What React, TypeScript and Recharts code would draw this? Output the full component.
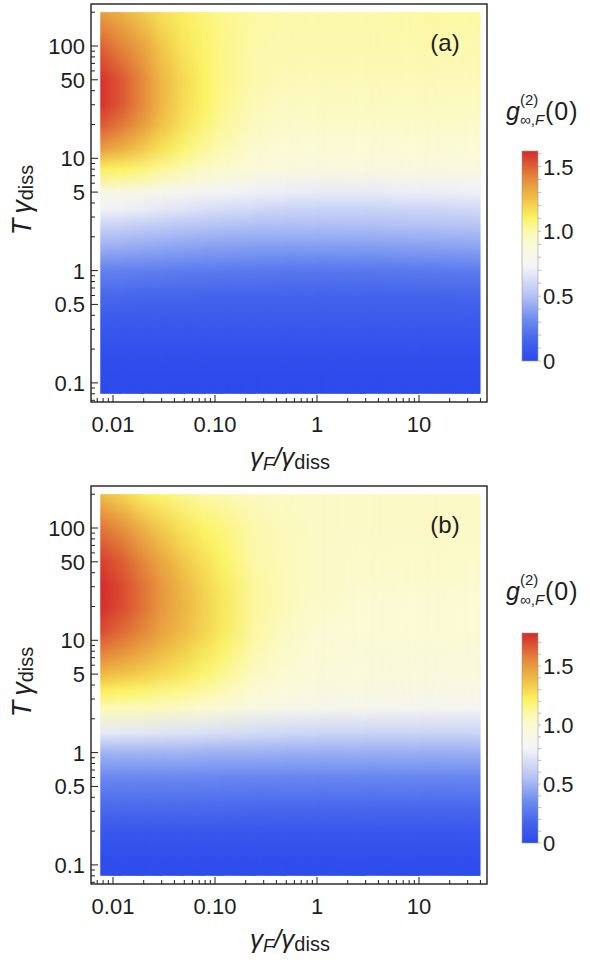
import React from 'react';
import { ComposedChart, XAxis, YAxis, Scatter, ReferenceArea } from 'recharts';

// grid nodes of the density plots
const gammaF = [0.0075, 0.012, 0.02, 0.03, 0.05, 0.08, 0.12, 0.25, 0.5, 1, 3, 10, 40];
const tGamma = [200, 100, 50, 30, 20, 12, 8, 5, 3.5, 2.5, 1.5, 1, 0.6, 0.35, 0.2, 0.12, 0.08];

// g2(0) values, one row per tGamma node (top to bottom), one column per gammaF node
const g2A = [
  [1.35, 1.30, 1.22, 1.16, 1.12, 1.07, 1.04, 1.01, 1.00, 1.00, 1.00, 1.01, 1.01],
  [1.50, 1.42, 1.33, 1.23, 1.14, 1.09, 1.05, 1.00, 0.99, 0.99, 0.99, 0.99, 0.99],
  [1.60, 1.52, 1.40, 1.28, 1.18, 1.10, 1.05, 0.99, 0.97, 0.97, 0.97, 0.97, 0.97],
  [1.60, 1.52, 1.40, 1.28, 1.17, 1.10, 1.04, 0.97, 0.95, 0.95, 0.95, 0.95, 0.95],
  [1.52, 1.45, 1.35, 1.25, 1.15, 1.07, 1.02, 0.95, 0.93, 0.93, 0.93, 0.93, 0.93],
  [1.35, 1.30, 1.22, 1.15, 1.08, 1.02, 0.98, 0.92, 0.90, 0.90, 0.90, 0.90, 0.90],
  [1.12, 1.10, 1.07, 1.03, 0.98, 0.94, 0.92, 0.88, 0.86, 0.85, 0.85, 0.85, 0.85],
  [0.83, 0.82, 0.80, 0.78, 0.76, 0.74, 0.73, 0.71, 0.70, 0.69, 0.69, 0.70, 0.71],
  [0.72, 0.71, 0.69, 0.67, 0.65, 0.63, 0.62, 0.60, 0.58, 0.58, 0.58, 0.59, 0.60],
  [0.58, 0.57, 0.55, 0.54, 0.52, 0.51, 0.50, 0.49, 0.49, 0.49, 0.49, 0.50, 0.51],
  [0.42, 0.41, 0.40, 0.39, 0.38, 0.37, 0.37, 0.36, 0.36, 0.36, 0.36, 0.37, 0.38],
  [0.28, 0.28, 0.27, 0.27, 0.26, 0.26, 0.25, 0.25, 0.24, 0.24, 0.24, 0.25, 0.26],
  [0.18, 0.18, 0.17, 0.17, 0.17, 0.16, 0.16, 0.16, 0.16, 0.16, 0.16, 0.16, 0.17],
  [0.10, 0.10, 0.10, 0.10, 0.10, 0.10, 0.10, 0.10, 0.10, 0.10, 0.10, 0.10, 0.10],
  [0.05, 0.05, 0.05, 0.05, 0.05, 0.05, 0.05, 0.05, 0.05, 0.05, 0.05, 0.05, 0.05],
  [0.02, 0.02, 0.02, 0.02, 0.02, 0.02, 0.02, 0.02, 0.02, 0.02, 0.02, 0.02, 0.02],
  [0.01, 0.01, 0.01, 0.01, 0.01, 0.01, 0.01, 0.01, 0.01, 0.01, 0.01, 0.01, 0.01],
];

const g2B = [
  [1.39, 1.32, 1.23, 1.19, 1.14, 1.10, 1.08, 1.05, 1.03, 1.03, 1.03, 1.03, 1.03],
  [1.60, 1.53, 1.42, 1.34, 1.26, 1.21, 1.17, 1.09, 1.05, 1.03, 1.03, 1.03, 1.03],
  [1.73, 1.66, 1.55, 1.46, 1.35, 1.27, 1.21, 1.10, 1.06, 1.03, 1.02, 1.02, 1.02],
  [1.78, 1.70, 1.60, 1.50, 1.40, 1.31, 1.24, 1.12, 1.06, 1.03, 1.01, 1.01, 1.01],
  [1.77, 1.70, 1.60, 1.50, 1.41, 1.32, 1.25, 1.12, 1.06, 1.02, 1.00, 1.00, 1.00],
  [1.70, 1.63, 1.55, 1.47, 1.39, 1.31, 1.24, 1.11, 1.04, 1.00, 0.99, 0.99, 0.99],
  [1.58, 1.53, 1.46, 1.40, 1.33, 1.26, 1.20, 1.08, 1.02, 0.99, 0.98, 0.98, 0.98],
  [1.40, 1.37, 1.33, 1.29, 1.25, 1.19, 1.14, 1.04, 1.00, 0.97, 0.96, 0.95, 0.95],
  [1.23, 1.21, 1.19, 1.16, 1.14, 1.11, 1.07, 1.00, 0.96, 0.93, 0.92, 0.91, 0.90],
  [1.07, 1.07, 1.06, 1.05, 1.03, 1.00, 0.98, 0.93, 0.89, 0.87, 0.85, 0.83, 0.82],
  [0.75, 0.74, 0.73, 0.72, 0.71, 0.70, 0.69, 0.67, 0.66, 0.65, 0.64, 0.64, 0.64],
  [0.50, 0.50, 0.50, 0.50, 0.50, 0.49, 0.49, 0.49, 0.48, 0.48, 0.48, 0.48, 0.48],
  [0.34, 0.34, 0.34, 0.34, 0.34, 0.34, 0.33, 0.33, 0.33, 0.33, 0.33, 0.33, 0.33],
  [0.22, 0.22, 0.22, 0.22, 0.22, 0.22, 0.22, 0.21, 0.21, 0.21, 0.21, 0.21, 0.21],
  [0.10, 0.10, 0.10, 0.10, 0.10, 0.10, 0.10, 0.10, 0.10, 0.10, 0.10, 0.10, 0.10],
  [0.04, 0.04, 0.04, 0.04, 0.04, 0.04, 0.04, 0.04, 0.04, 0.04, 0.04, 0.04, 0.04],
  [0.02, 0.02, 0.02, 0.02, 0.02, 0.02, 0.02, 0.02, 0.02, 0.02, 0.02, 0.02, 0.02],
];

const maxA = 1.62;
const maxB = 1.78;

const xMajor = [0.01, 0.1, 1, 10];
const xMajorLabels = ['0.01', '0.10', '1', '10'];
const xMinor = [0.007, 0.008, 0.009, 0.02, 0.03, 0.04, 0.05, 0.06, 0.07, 0.08, 0.09,
  0.2, 0.3, 0.4, 0.5, 0.6, 0.7, 0.8, 0.9, 2, 3, 4, 5, 6, 7, 8, 9, 20, 30, 40];
const yMajor = [0.1, 0.5, 1, 5, 10, 50, 100];
const yMajorLabels = ['0.1', '0.5', '1', '5', '10', '50', '100'];
const yMinor = [0.07, 0.08, 0.09, 0.2, 0.3, 0.4, 0.6, 0.7, 0.8, 0.9, 2, 3, 4, 6, 7, 8, 9,
  20, 30, 40, 60, 70, 80, 90, 200];

const cbMajor = [0, 0.5, 1, 1.5];
const cbLabels = ['0', '0.5', '1.0', '1.5'];
const cbMinorA = [0.1, 0.2, 0.3, 0.4, 0.6, 0.7, 0.8, 0.9, 1.1, 1.2, 1.3, 1.4, 1.6];
const cbMinorB = [0.1, 0.2, 0.3, 0.4, 0.6, 0.7, 0.8, 0.9, 1.1, 1.2, 1.3, 1.4, 1.6, 1.7];

// colour scale, positions are fractions of the colour bar maximum
const cmapPos = [0, 0.1, 0.2, 0.31, 0.45, 0.56, 0.62, 0.68, 0.77, 0.87, 1];
const cmapCol = ['#2b49ec', '#4464ec', '#6e8cef', '#b4c2f4', '#f4f4f6', '#fbfad4',
  '#fcf8a8', '#fbf464', '#f0c248', '#e48a3c', '#d42a2c'];

const X_DOMAIN = [0.006085, 46.4];
const Y_DOMAIN = [0.0676, 236.6];
const FONT = '"Liberation Sans", Arial, sans-serif';
const INK = '#1e1e1e';

const toRgb = (h: string) => [1, 3, 5].map((i) => parseInt(h.slice(i, i + 2), 16));

function colorAt(t: number) {
  const v = Math.max(0, Math.min(1, t));
  let k = 0;
  while (k < cmapPos.length - 2 && v > cmapPos[k + 1]) k++;
  const f = (v - cmapPos[k]) / (cmapPos[k + 1] - cmapPos[k]);
  const a = toRgb(cmapCol[k]);
  const b = toRgb(cmapCol[k + 1]);
  const c = a.map((ai, i) => Math.round(ai + (b[i] - ai) * f));
  return `rgb(${c[0]},${c[1]},${c[2]})`;
}

const XTick = (props: any) => {
  const { x, y, payload } = props;
  const i = xMajor.indexOf(payload.value);
  const len = i >= 0 ? 7 : 4;
  return (
    <g>
      <line x1={x} x2={x} y1={y} y2={y - len} stroke={INK} strokeWidth={1} />
      {i >= 0 && (
        <text x={x} y={y + 30} textAnchor="middle" fontSize={22} fontFamily={FONT} fill={INK}>
          {xMajorLabels[i]}
        </text>
      )}
    </g>
  );
};

const YTick = (props: any) => {
  const { x, y, payload } = props;
  const i = yMajor.indexOf(payload.value);
  const len = i >= 0 ? 7 : 4;
  return (
    <g>
      <line x1={x} x2={x + len} y1={y} y2={y} stroke={INK} strokeWidth={1} />
      {i >= 0 && (
        <text x={x - 6} y={y + 8} textAnchor="end" fontSize={22} fontFamily={FONT} fill={INK}>
          {yMajorLabels[i]}
        </text>
      )}
    </g>
  );
};

const CbTick = (props: any) => {
  const { x, y, payload } = props;
  const i = cbMajor.indexOf(payload.value);
  return (
    <g>
      <line x1={x} x2={x + 3} y1={y} y2={y} stroke="#aaa" strokeWidth={0.8} />
      {i >= 0 && (
        <text x={x + 5} y={y + 8} textAnchor="start" fontSize={22} fontFamily={FONT} fill={INK}>
          {cbLabels[i]}
        </text>
      )}
    </g>
  );
};

function ColorBar({ id, vmax, minor }: { id: string; vmax: number; minor: number[] }) {
  return (
    <div style={{ position: 'absolute', left: 500, top: 140 }}>
      <ComposedChart width={90} height={240} margin={{ top: 11, right: 40, bottom: 19, left: 22 }}>
        <defs>
          <linearGradient id={`${id}cb`} x1="0" y1="1" x2="0" y2="0">
            {cmapPos.map((p, k) => (
              <stop key={k} offset={p} stopColor={cmapCol[k]} />
            ))}
          </linearGradient>
        </defs>
        <XAxis type="number" dataKey="x" domain={[0, 1]} hide />
        <YAxis
          type="number"
          dataKey="y"
          orientation="right"
          domain={[0, vmax]}
          allowDataOverflow
          ticks={[...minor, ...cbMajor]}
          interval={0}
          tickSize={0}
          tickMargin={0}
          tick={<CbTick />}
          axisLine={false}
          tickLine={false}
          width={12}
        />
        <Scatter data={[{ x: 0, y: 0 }, { x: 1, y: vmax }]} shape={() => <g />} isAnimationActive={false} />
        <ReferenceArea
          x1={0}
          x2={1}
          y1={0}
          y2={vmax}
          shape={(p: any) => (
            <rect x={p.x} y={p.y} width={p.width} height={p.height} fill={`url(#${id}cb)`} stroke="#999" strokeWidth={0.6} />
          )}
        />
      </ComposedChart>
    </div>
  );
}

function Panel({ id, grid, vmax, top, label, minor, titleDy }: any) {
  const yTop = tGamma[0];
  const yBot = tGamma[tGamma.length - 1];
  const lt = Math.log10(yTop);
  const lb = Math.log10(yBot);
  const offsets = tGamma.map((v) => (lt - Math.log10(v)) / (lt - lb));

  // each interval between two gammaF nodes: left column opaque, right column faded in on top
  const cell = (i: number) => (p: any) => {
    const ext = i === 0 ? 0 : 1;
    return (
      <g>
        <rect x={p.x - ext} y={p.y} width={p.width + ext} height={p.height} fill={`url(#${id}c${i})`} />
        <rect x={p.x} y={p.y} width={p.width} height={p.height} fill={`url(#${id}c${i + 1})`} mask={`url(#${id}ramp)`} />
      </g>
    );
  };

  return (
    <div style={{ position: 'absolute', left: 0, top, width: 590, height: 482 }}>
      <ComposedChart width={590} height={482} margin={{ top: 4, right: 103, bottom: 40, left: 51 }}>
        <defs>
          <linearGradient id={`${id}rampG`} x1="0" y1="0" x2="1" y2="0">
            <stop offset="0" stopColor="#fff" stopOpacity={0} />
            <stop offset="1" stopColor="#fff" stopOpacity={1} />
          </linearGradient>
          <mask id={`${id}ramp`} maskContentUnits="objectBoundingBox" style={{ maskType: 'alpha' } as any}>
            <rect x="0" y="0" width="1" height="1" fill={`url(#${id}rampG)`} />
          </mask>
          {gammaF.map((_, j) => (
            <linearGradient key={j} id={`${id}c${j}`} x1="0" y1="0" x2="0" y2="1">
              {tGamma.map((_, r) => (
                <stop key={r} offset={offsets[r]} stopColor={colorAt(grid[r][j] / vmax)} />
              ))}
            </linearGradient>
          ))}
        </defs>
        <XAxis
          type="number"
          dataKey="x"
          scale="log"
          domain={X_DOMAIN}
          allowDataOverflow
          ticks={[...xMinor, ...xMajor]}
          interval={0}
          tickSize={0}
          tickMargin={0}
          tick={<XTick />}
          axisLine={false}
          tickLine={false}
          height={40}
        />
        <YAxis
          type="number"
          dataKey="y"
          scale="log"
          domain={Y_DOMAIN}
          allowDataOverflow
          ticks={[...yMinor, ...yMajor]}
          interval={0}
          tickSize={0}
          tickMargin={0}
          tick={<YTick />}
          axisLine={false}
          tickLine={false}
          width={40}
        />
        <Scatter
          data={[{ x: gammaF[0], y: yBot }, { x: gammaF[gammaF.length - 1], y: yTop }]}
          shape={() => <g />}
          isAnimationActive={false}
        />
        {gammaF.slice(0, -1).map((x0, i) => (
          <ReferenceArea key={i} x1={x0} x2={gammaF[i + 1]} y1={yBot} y2={yTop} shape={cell(i)} ifOverflow="visible" />
        ))}
        <ReferenceArea
          x1={X_DOMAIN[0]}
          x2={X_DOMAIN[1]}
          y1={Y_DOMAIN[0]}
          y2={Y_DOMAIN[1]}
          ifOverflow="visible"
          shape={(p: any) => (
            <rect x={p.x} y={p.y} width={p.width} height={p.height} fill="none" stroke={INK} strokeWidth={1.4} />
          )}
        />
      </ComposedChart>

      <svg width={590} height={482} style={{ position: 'absolute', left: 0, top: 0 }} fontFamily={FONT} fill={INK}>
        <text x={445} y={51} textAnchor="middle" fontSize={24}>{label}</text>
        <text x={31} y={200} transform="rotate(-90 31 200)" textAnchor="middle" fontSize={27}>
          <tspan fontStyle="italic">T</tspan>
          <tspan dx={5} fontStyle="italic">γ</tspan>
          <tspan fontSize={20} dy={2}>diss</tspan>
        </text>
        <text x={290} y={466} textAnchor="middle" fontSize={26}>
          <tspan fontStyle="italic">γ</tspan>
          <tspan fontStyle="italic" fontSize={18} dy={4}>F</tspan>
          <tspan fontStyle="italic" dy={-4}>/</tspan>
          <tspan fontStyle="italic">γ</tspan>
          <tspan fontSize={20} dy={3}>diss</tspan>
        </text>
        <g transform={`translate(0 ${titleDy})`}>
          <text x={506} y={120} fontSize={25} fontStyle="italic">g</text>
          <text x={520} y={105} fontSize={15}>(2)</text>
          <text x={520} y={125} fontSize={15}>
            ∞,<tspan fontStyle="italic">F</tspan>
          </text>
          <text x={545} y={120} fontSize={25} letterSpacing={1}>(0)</text>
        </g>
      </svg>

      <ColorBar id={id} vmax={vmax} minor={minor} />
    </div>
  );
}

export default function App() {
  return (
    <div style={{ position: 'absolute', left: 0, top: 0, width: 590, height: 964, background: '#fff' }}>
      <Panel id="pa" grid={g2A} vmax={maxA} top={0} label="(a)" minor={cbMinorA} titleDy={0} />
      <Panel id="pb" grid={g2B} vmax={maxB} top={482} label="(b)" minor={cbMinorB} titleDy={-2} />
    </div>
  );
}
